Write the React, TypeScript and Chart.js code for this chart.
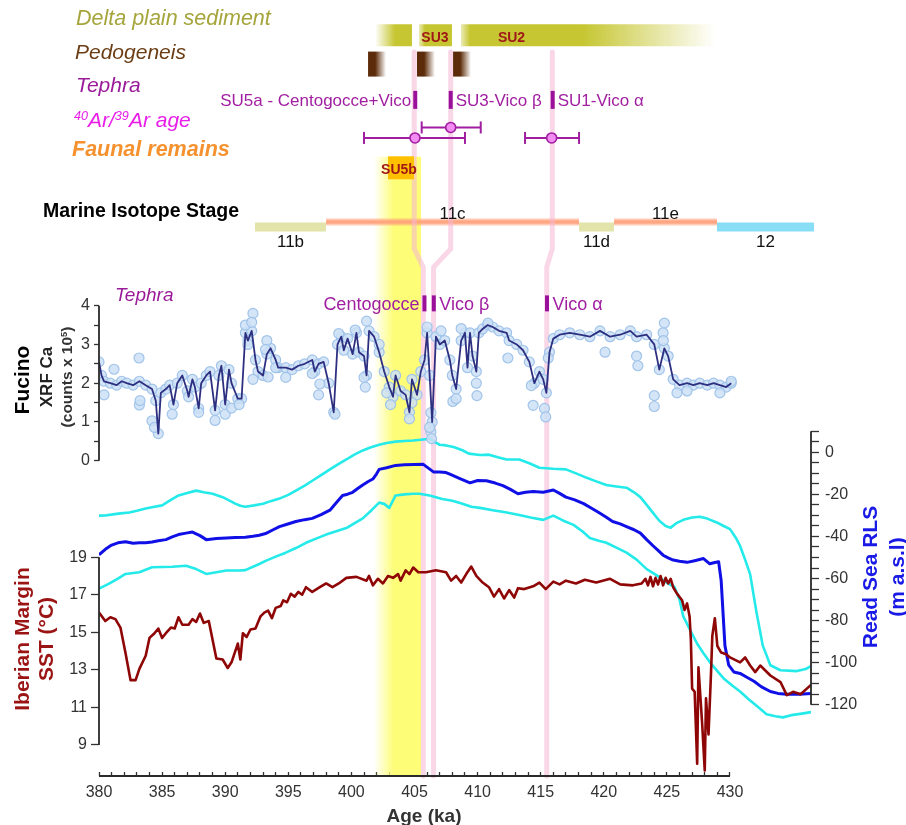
import React, { useEffect, useRef, useState } from 'react';
import { Chart, registerables } from 'chart.js';

Chart.register(...registerables);

const FONT = "'Liberation Sans', Arial, Helvetica, sans-serif";

// ---------------- ticks ----------------
const X_TICKS: number[] = Array.from({ length: 51 }, (_, i) => 380 + i);
const X_LABELS = [380, 385, 390, 395, 400, 405, 410, 415, 420, 425, 430];
const CA_TICKS = [0, 0.5, 1, 1.5, 2, 2.5, 3, 3.5, 4];
const CA_LABELS = [0, 1, 2, 3, 4];
const SST_TICKS = [9, 11, 13, 15, 17, 19];
const RLS_TICKS = [10, 5, 0, -5, -10, -15, -20, -25, -30, -35, -40, -45, -50, -55, -60, -65, -70, -75, -80, -85, -90, -95, -100, -105, -110, -115, -120];
const RLS_LABELS = [0, -20, -40, -60, -80, -100, -120];

// ---------------- Fucino XRF Ca (age ka, counts x 1e5) ----------------
const CA_LINE = [
  [380.0, 2.55], [380.2, 2.2], [380.4, 2.05], [380.9, 2.0], [381.4, 1.95], [381.8, 2.05], [382.2, 2.0], [382.7, 1.95], [383.2, 2.05], [383.7, 1.95],
  [384.2, 1.85], [384.5, 1.55], [384.7, 0.7], [384.9, 1.75], [385.3, 1.85], [385.6, 1.95], [385.9, 1.45], [386.2, 2.0], [386.6, 2.2], [387.0, 1.8],
  [387.1, 1.65], [387.4, 2.1], [387.6, 1.9], [387.9, 1.35], [388.1, 2.0], [388.5, 2.2], [388.8, 2.3], [389.2, 1.3], [389.5, 2.2], [389.7, 2.45],
  [390.0, 1.45], [390.3, 2.35], [390.5, 2.0], [391.0, 1.6], [391.3, 1.6], [391.6, 3.3], [391.8, 3.1], [392.1, 3.35], [392.4, 2.6], [392.6, 2.3],
  [393.0, 2.2], [393.3, 2.75], [393.6, 2.9], [394.0, 2.6], [394.2, 2.4], [394.8, 2.4], [395.3, 2.35], [395.8, 2.45], [396.3, 2.5], [396.9, 2.6],
  [397.1, 2.3], [397.4, 2.5], [397.8, 2.55], [398.2, 2.0], [398.6, 1.25], [398.9, 3.0], [399.2, 3.2], [399.4, 2.85], [399.7, 3.15], [400.1, 2.75],
  [400.4, 3.3], [400.6, 2.8], [401.0, 2.7], [401.2, 2.2], [401.4, 3.35], [401.8, 3.2], [402.2, 2.8], [402.6, 2.3], [403.0, 1.9], [403.3, 1.65],
  [403.5, 2.2], [403.9, 1.8], [404.3, 1.7], [404.6, 1.25], [404.8, 2.1], [405.2, 1.7], [405.5, 2.3], [405.8, 2.6], [406.0, 3.3], [406.2, 2.2],
  [406.4, 1.0], [406.7, 3.2], [407.0, 3.0], [407.4, 3.1], [407.8, 2.6], [408.0, 2.2], [408.3, 1.85], [408.7, 3.1], [409.0, 3.3], [409.2, 2.4],
  [409.4, 3.3], [409.6, 2.7], [409.9, 2.3], [410.1, 3.3], [410.4, 3.4], [410.8, 3.5], [411.2, 3.45], [411.7, 3.35], [412.3, 3.3], [412.5, 3.1],
  [413.1, 3.0], [413.6, 2.85], [414.1, 2.55], [414.5, 2.0], [414.9, 2.3], [415.2, 2.1], [415.45, 1.75], [415.7, 2.8], [416.0, 3.15], [416.5, 3.25],
  [417.3, 3.3], [418.1, 3.25], [418.9, 3.2], [419.7, 3.35], [420.5, 3.2], [421.3, 3.25], [422.1, 3.35], [422.6, 3.2], [423.4, 3.25], [424.0, 3.0],
  [424.4, 2.35], [424.8, 2.9], [425.1, 2.7], [425.5, 2.1], [426.0, 1.95], [426.6, 2.0], [427.1, 1.95], [427.6, 2.0], [428.2, 1.95], [428.7, 2.0],
  [429.2, 1.95], [429.7, 1.9], [430.1, 2.0],
];
const CA_OUTLIERS = [
  [383.17, 2.65], [381.19, 2.36], [380.4, 1.7], [383.2, 1.44], [383.25, 1.55], [384.2, 1.03], [384.4, 0.86], [385.8, 1.2], [387.9, 1.25], [389.2, 1.04],
  [390.0, 1.2], [390.5, 1.36], [391.1, 1.45], [391.6, 3.5], [392.2, 3.8], [392.1, 3.57], [391.8, 3.0], [392.2, 2.1], [393.3, 3.1], [393.2, 2.87],
  [393.4, 2.16], [394.0, 2.4], [394.8, 2.15], [397.4, 1.7], [397.5, 1.98], [396.9, 2.25], [398.7, 1.2], [399.0, 3.28], [400.3, 3.37], [401.2, 3.6],
  [401.1, 1.9], [401.0, 2.15], [402.2, 3.0], [402.8, 1.75], [403.1, 1.45], [404.6, 1.08], [404.8, 1.5], [406.0, 3.45], [406.3, 1.24], [406.3, 0.74],
  [406.35, 0.57], [406.2, 0.86], [407.1, 3.35], [408.04, 1.53], [408.3, 1.6], [408.7, 3.41], [409.95, 1.68], [409.9, 2.0], [410.82, 3.55], [412.4, 2.65],
  [414.26, 1.94], [414.4, 1.43], [415.3, 1.35], [415.4, 1.13], [415.6, 2.65], [420.1, 2.8], [422.6, 2.7], [422.7, 2.45], [424.8, 3.55], [424.7, 3.3],
  [424.72, 3.1], [424.0, 1.68], [424.0, 1.4], [425.8, 1.75], [426.6, 1.8], [429.2, 1.75], [430.1, 2.05],
];

// ---------------- Red Sea RLS (age ka, m a.s.l.) ----------------
const RLS_MEAN = [
  [380.0, -48.7], [380.5, -46.1], [381.0, -44.1], [381.5, -43.0], [382.1, -42.5], [382.7, -43.2], [383.2, -43.0], [383.7, -43.0], [384.2, -42.6], [384.7, -42.0],
  [385.3, -41.5], [385.8, -40.2], [386.3, -39.1], [386.9, -38.4], [387.4, -37.9], [388.0, -39.6], [388.5, -41.5], [389.3, -41.0], [390.1, -40.7], [390.8, -40.5],
  [391.6, -40.4], [392.2, -39.9], [392.7, -39.4], [393.2, -38.6], [393.8, -36.8], [394.3, -35.3], [394.9, -34.2], [395.6, -32.9], [396.3, -32.0], [396.9, -31.4],
  [397.6, -29.6], [398.3, -27.5], [398.8, -24.0], [399.3, -20.5], [399.7, -19.9], [400.1, -19.0], [400.5, -17.2], [400.9, -15.5], [401.3, -14.0], [401.7, -12.7],
  [402.0, -10.2], [402.2, -8.1], [402.8, -7.3], [403.5, -6.2], [404.2, -5.9], [405.0, -5.8], [405.7, -5.7], [406.1, -7.5], [406.5, -9.3], [407.0, -9.4],
  [407.5, -9.6], [407.8, -10.4], [408.6, -12.5], [409.4, -14.5], [410.0, -13.4], [410.7, -13.5], [411.4, -14.6], [412.0, -15.8], [412.6, -17.6], [413.2, -19.7],
  [413.8, -19.0], [414.4, -18.6], [415.2, -19.0], [416.0, -17.9], [416.5, -19.5], [417.0, -21.3], [417.7, -22.6], [418.4, -24.4], [419.1, -26.8], [419.7, -29.0],
  [420.2, -30.9], [420.7, -32.9], [421.3, -34.0], [421.8, -35.3], [422.4, -36.8], [422.9, -38.4], [423.4, -41.5], [423.9, -44.4], [424.3, -46.6], [424.7, -48.9],
  [425.1, -50.2], [425.5, -51.2], [426.0, -51.8], [426.6, -52.3], [427.2, -51.5], [427.9, -50.5], [428.4, -53.0], [428.8, -52.4], [429.1, -52.0], [429.3, -60.9],
  [429.6, -91.9], [429.9, -101.2], [430.3, -104.4], [430.8, -105.1], [431.3, -106.8], [431.9, -108.8], [432.5, -111.5], [433.2, -113.7], [433.8, -114.6], [434.5, -115.0],
  [435.5, -115.0], [436.42, -114.6],
];
const RLS_UPPER = [
  [380.0, -30.1], [380.5, -30.0], [381.1, -29.5], [381.7, -29.0], [382.4, -28.6], [383.0, -27.8], [383.7, -26.7], [384.3, -26.0], [385.0, -25.2], [385.6, -23.0],
  [386.3, -20.5], [387.0, -19.3], [387.7, -18.2], [388.3, -19.0], [389.0, -19.7], [389.8, -21.3], [390.3, -22.8], [390.8, -24.4], [391.2, -25.4], [391.6, -25.9],
  [392.3, -25.2], [393.0, -24.4], [393.6, -23.2], [394.3, -22.0], [395.0, -20.2], [395.6, -18.2], [396.3, -15.8], [396.9, -13.5], [397.6, -10.8], [398.3, -8.1],
  [398.9, -5.8], [399.6, -3.4], [400.2, -1.2], [400.9, 0.9], [401.5, 2.3], [402.2, 3.6], [402.8, 4.4], [403.5, 5.1], [404.2, 5.4], [404.9, 5.6],
  [405.5, 6.0], [406.2, 6.5], [406.6, 5.0], [407.0, 3.6], [407.5, 3.3], [408.1, 2.5], [408.8, 1.0], [409.3, -0.6], [410.2, -1.3], [410.9, -1.1],
  [411.6, -2.3], [412.3, -3.4], [413.3, -3.4], [414.1, -5.2], [414.9, -7.3], [416.0, -7.8], [417.0, -8.1], [417.8, -10.0], [418.6, -12.0], [419.4, -13.8],
  [420.2, -15.5], [421.0, -16.2], [421.8, -16.8], [422.4, -19.0], [422.9, -21.3], [423.4, -25.0], [423.9, -28.8], [424.4, -32.5], [424.9, -35.0], [425.3, -35.8],
  [425.8, -33.5], [426.3, -32.1], [427.0, -31.0], [427.6, -30.6], [428.2, -31.5], [428.9, -33.2], [429.5, -35.0], [430.0, -36.5], [430.5, -41.0], [430.8, -44.5],
  [431.2, -51.0], [431.6, -58.0], [432.1, -76.0], [432.6, -91.9], [433.2, -101.2], [434.0, -103.6], [435.3, -104.0], [436.0, -103.0], [436.42, -101.6],
];
const RLS_LOWER = [
  [380.0, -64.8], [380.8, -62.4], [381.5, -60.0], [382.1, -57.8], [383.2, -57.0], [384.2, -54.6], [385.0, -54.5], [385.8, -54.4], [386.9, -53.9], [387.7, -55.5],
  [388.5, -57.8], [389.3, -57.0], [390.1, -56.2], [391.1, -56.2], [391.6, -56.0], [392.7, -53.1], [393.2, -51.6], [394.0, -49.6], [394.8, -47.7], [395.6, -45.5],
  [396.4, -43.0], [397.2, -41.0], [398.0, -39.1], [398.8, -37.5], [399.6, -36.0], [400.3, -33.5], [400.9, -31.4], [401.6, -27.5], [402.2, -23.9], [402.6, -24.5],
  [403.0, -26.4], [403.5, -20.5], [404.2, -20.0], [404.9, -19.7], [405.4, -19.7], [406.2, -20.5], [407.2, -22.2], [408.0, -23.0], [408.8, -24.4], [409.5, -25.9],
  [410.2, -26.4], [411.2, -27.5], [412.2, -28.5], [413.3, -29.8], [414.2, -31.0], [415.2, -32.1], [416.0, -30.1], [416.8, -32.5], [417.6, -34.5], [418.3, -37.5],
  [418.9, -40.7], [419.6, -42.0], [420.2, -43.0], [421.0, -45.3], [421.8, -47.7], [422.6, -51.0], [423.4, -55.5], [424.2, -58.5], [425.0, -62.0], [425.6, -64.0],
  [426.0, -70.0], [426.3, -78.0], [426.8, -84.0], [427.4, -91.0], [427.9, -95.5], [428.4, -99.7], [429.0, -104.0], [429.5, -107.5], [430.2, -111.0], [430.8, -113.7],
  [431.5, -117.5], [432.2, -121.0], [432.9, -124.5], [433.6, -125.5], [434.2, -126.0], [435.0, -124.8], [435.7, -124.2], [436.42, -123.5],
];

// ---------------- Iberian Margin SST (age ka, °C) ----------------
const SST = [
  [380.0, 16.05], [380.5, 15.6], [380.9, 15.8], [381.3, 15.7], [381.7, 15.25], [382.1, 13.9], [382.5, 12.45], [382.9, 12.45], [383.2, 13.05], [383.7, 13.75],
  [384.0, 14.7], [384.4, 14.95], [384.7, 15.2], [385.0, 14.7], [385.3, 14.95], [385.7, 15.25], [386.0, 15.2], [386.3, 15.8], [386.6, 15.4], [387.1, 15.4],
  [387.4, 15.7], [387.7, 15.55], [388.0, 16.0], [388.3, 15.5], [388.7, 15.6], [389.3, 13.6], [389.8, 13.55], [390.2, 13.1], [390.5, 13.4], [391.0, 14.4],
  [391.2, 13.55], [391.4, 14.95], [391.7, 14.75], [392.0, 15.15], [392.4, 15.2], [392.8, 15.85], [393.1, 16.05], [393.4, 16.15], [393.7, 15.75], [394.0, 16.3],
  [394.4, 16.4], [394.6, 16.7], [394.9, 16.6], [395.2, 17.05], [395.5, 16.9], [395.8, 17.15], [396.1, 17.0], [396.4, 17.4], [396.9, 17.15], [397.5, 17.4],
  [398.0, 17.6], [398.5, 17.4], [399.0, 17.6], [399.6, 17.9], [400.4, 17.95], [401.2, 17.75], [401.4, 18.0], [401.7, 17.5], [402.1, 17.85], [402.5, 17.6],
  [402.9, 18.0], [403.3, 17.9], [403.7, 18.1], [403.9, 17.75], [404.3, 18.3], [404.6, 18.1], [404.9, 18.45], [405.3, 18.2], [405.9, 18.2], [406.7, 18.3],
  [407.5, 18.2], [407.9, 17.75], [408.3, 18.0], [408.7, 17.65], [409.1, 18.1], [409.5, 18.5], [409.9, 18.0], [410.4, 17.65], [410.9, 17.4], [411.3, 16.9],
  [411.7, 17.3], [412.1, 16.8], [412.5, 17.25], [412.9, 16.85], [413.2, 17.35], [413.7, 17.3], [414.4, 17.45], [414.9, 17.65], [415.4, 17.3], [416.0, 17.7],
  [416.5, 17.55], [417.0, 17.75], [417.8, 17.6], [418.5, 17.8], [419.4, 17.65], [420.5, 17.85], [421.3, 17.55], [422.3, 17.5], [423.0, 17.6], [423.3, 17.85],
  [423.5, 17.5], [423.7, 17.95], [423.9, 17.45], [424.1, 17.9], [424.3, 17.55], [424.5, 18.0], [424.7, 17.5], [424.9, 17.9], [425.1, 17.6], [425.3, 17.85],
  [425.5, 17.4], [425.8, 17.06], [426.2, 16.71], [426.4, 16.19], [426.6, 16.54], [426.8, 15.84], [426.9, 14.62], [427.0, 12.0], [427.2, 11.83], [427.4, 8.0],
  [427.5, 13.14], [427.8, 10.08], [428.0, 7.64], [428.1, 11.48], [428.3, 9.56], [428.5, 12.88], [428.6, 14.8], [428.8, 15.75], [429.0, 14.27], [429.3, 13.92],
  [429.7, 13.83], [430.0, 13.66], [430.8, 13.4], [431.2, 13.66], [431.6, 13.23], [432.0, 12.88], [432.4, 13.23], [433.2, 12.7], [434.0, 12.35], [434.5, 11.65],
  [435.0, 11.83], [435.6, 11.7], [436.42, 12.2],
];

// ---------------- Annotations (ages in ka) ----------------
const DELTA_SPANS = [[401.87, 404.80], [405.36, 407.97], [408.68, 428.81]];
const DELTA_UNIT_NAMES = ['SU3', 'SU2'];
const DELTA_UNIT_AGE = [406.62, 412.69];
const PEDO_SPANS = [[401.32, 402.74], [405.20, 406.62], [408.05, 409.48]];
const TEPHRA_TOP_NAMES = ['SU5a - Centogocce+Vico', 'SU3-Vico β', 'SU1-Vico α'];
const TEPHRA_TOP_AGE = [405.06, 407.87, 415.95];
const AR_AGE = [405.04, 407.87, 415.87];
const AR_LO = [401.0, 405.57, 413.76];
const AR_HI = [409.0, 410.25, 418.04];
const FAUNA_NAME = 'SU5b';
const FAUNA_BOX = [402.90, 404.96];
const FAUNA_LABEL_AGE = 403.77;
const FAUNA_BAND = [401.79, 405.52];
const MIS_STAGES = ['11b', '11c', '11d', '11e', '12'];
const MIS_START = [392.36, 397.99, 418.04, 420.81, 428.97];
const MIS_END = [397.99, 418.04, 420.81, 428.97, 436.66];
const MIS_WARM = [false, true, false, true, false];
const LINK_TOP_AGE = [404.98, 407.87, 415.92];
const LINK_BOTTOM_AGE = [405.70, 406.51, 415.48];
const TEPHRA_FUC_NAMES = ['Centogocce', 'Vico β', 'Vico α'];
const TEPHRA_FUC_AGE = [405.79, 406.53, 415.5];

// ---------------- layout ----------------
const W = 906;
const H = 825;
const PAD = { left: 99, right: 95, top: 0, bottom: 49 };
const PLOT_H = H - PAD.top - PAD.bottom;
const X_MIN = 380;
const X_MAX = 436.42;

function span(v0: number, p0: number, v1: number, p1: number) {
  const k = (p1 - p0) / (v1 - v0);
  const a = v0 + (0 - p0) / k;
  const b = v0 + (PLOT_H - p0) / k;
  return { min: Math.min(a, b), max: Math.max(a, b) };
}
const CA_RANGE = span(0, 454.3, 4, 296);
const SST_RANGE = span(9, 744.3, 19, 552.7);
const RLS_RANGE = span(0, 445.7, -120, 703.3);
const ROW_RANGE = span(0, 20, 1, 53.5);

const ROW = {
  delta: 0, deltaText: 0.07, pedo: 0.88, tephra: 1.97, arLow: 3.13, arHigh: 2.81,
  faunaTop: 3.70, fauna: 4.04, faunaText: 4.09, misWarm: 5.69, misCold: 5.84,
  misTextWarm: 5.43, misTextCold: 6.28, linkTop: 0.51, jogTop: 6.51, jogBottom: 7.07,
  fucTephra: 8.17, fucTephraText: 8.19, base: ROW_RANGE.max,
};
const AR_ROW = [ROW.arLow, ROW.arHigh, ROW.arLow];

const OLIVE = '198,198,50';
const BROWN = '92,44,10';
const YELLOW = '253,253,120';
const PURPLE = '#9a109a';
const AXIS_COLOR = '#2a2a2a';

const pts = (arr: number[][]) => arr.map(([x, y]) => ({ x, y }));

function hGrad(chart: any, x0: number, x1: number, stops: number[][], rgb: string) {
  const xs = chart.scales && chart.scales.x;
  if (!xs) return `rgba(${rgb},1)`;
  const a = xs.getPixelForValue(x0);
  const b = xs.getPixelForValue(x1);
  if (!isFinite(a) || !isFinite(b) || a === b) return `rgba(${rgb},1)`;
  const g = chart.ctx.createLinearGradient(a, 0, b, 0);
  stops.forEach(([f, al]) => g.addColorStop(f, `rgba(${rgb},${al})`));
  return g;
}
function vGrad(chart: any, row: number, half: number, rgb: string) {
  const ys = chart.scales && chart.scales.yRow;
  if (!ys) return `rgba(${rgb},1)`;
  const y = ys.getPixelForValue(row);
  if (!isFinite(y)) return `rgba(${rgb},1)`;
  const g = chart.ctx.createLinearGradient(0, y - half, 0, y + half);
  g.addColorStop(0, `rgba(${rgb},0.15)`);
  g.addColorStop(0.3, `rgba(${rgb},0.8)`);
  g.addColorStop(0.5, `rgba(${rgb},1)`);
  g.addColorStop(0.7, `rgba(${rgb},0.8)`);
  g.addColorStop(1, `rgba(${rgb},0.15)`);
  return g;
}

function seg(data: any[], yAxisID: string, style: any) {
  return { type: 'line', data, xAxisID: 'x', yAxisID, pointRadius: 0, tension: 0, borderCapStyle: 'butt', clip: false, ...style };
}

const DELTA_STOPS = [
  [[0, 0], [0.54, 1], [1, 1]],
  [[0, 0.35], [0.18, 1], [1, 1]],
  [[0, 0.35], [0.036, 1], [0.48, 1], [1, 0]],
];

function buildDatasets() {
  const ds: any[] = [];
  // axis lines
  ds.push(seg([{ x: 380, y: ROW.base }, { x: 430, y: ROW.base }], 'yRow', { borderColor: AXIS_COLOR, borderWidth: 1.8, order: 0 }));
  ds.push(seg([{ x: 380, y: CA_TICKS[0] }, { x: 380, y: CA_TICKS[CA_TICKS.length - 1] }], 'yCa', { borderColor: AXIS_COLOR, borderWidth: 1.8, order: 0 }));
  ds.push(seg([{ x: 380, y: SST_TICKS[0] }, { x: 380, y: SST_TICKS[SST_TICKS.length - 1] }], 'ySst', { borderColor: AXIS_COLOR, borderWidth: 1.8, order: 0 }));
  ds.push(seg([{ x: X_MAX, y: RLS_TICKS[0] }, { x: X_MAX, y: RLS_TICKS[RLS_TICKS.length - 1] }], 'yRls', { borderColor: AXIS_COLOR, borderWidth: 1.8, order: 0 }));

  // Ar/Ar ages
  ds.push({
    type: 'scatter', xAxisID: 'x', yAxisID: 'yRow', clip: false, order: 1,
    data: AR_AGE.map((a, i) => ({ x: a, y: AR_ROW[i] })),
    pointRadius: 5, pointBackgroundColor: 'rgb(242,140,242)', pointBorderColor: 'rgb(160,30,160)', pointBorderWidth: 1.6,
  });
  ds.push({
    type: 'scatter', xAxisID: 'x', yAxisID: 'yRow', clip: false, order: 2,
    data: AR_AGE.flatMap((_, i) => [{ x: AR_LO[i], y: AR_ROW[i] }, { x: AR_HI[i], y: AR_ROW[i] }]),
    pointStyle: 'line', rotation: 90, pointRadius: 6, pointBorderColor: 'rgb(160,30,160)', pointBorderWidth: 2,
  });
  AR_AGE.forEach((_, i) => {
    ds.push(seg([{ x: AR_LO[i], y: AR_ROW[i] }, { x: AR_HI[i], y: AR_ROW[i] }], 'yRow', { borderColor: 'rgb(160,30,160)', borderWidth: 2, order: 3 }));
  });

  // tephra marks
  ds.push({
    type: 'scatter', xAxisID: 'x', yAxisID: 'yRow', clip: false, order: 4,
    data: TEPHRA_TOP_AGE.map((a) => ({ x: a, y: ROW.tephra })),
    pointStyle: 'line', rotation: 90, pointRadius: 9, pointBorderColor: PURPLE, pointBorderWidth: 4,
  });
  ds.push({
    type: 'scatter', xAxisID: 'x', yAxisID: 'yRow', clip: false, order: 4,
    data: TEPHRA_FUC_AGE.map((a) => ({ x: a, y: ROW.fucTephra })),
    pointStyle: 'line', rotation: 90, pointRadius: 8, pointBorderColor: PURPLE, pointBorderWidth: 4,
  });

  // Fucino
  ds.push(seg(pts(CA_LINE), 'yCa', { borderColor: '#2d2f80', borderWidth: 1.8, order: 5, clip: undefined, borderJoinStyle: 'round' }));
  ds.push({
    type: 'scatter', xAxisID: 'x', yAxisID: 'yCa', order: 6,
    data: pts([...CA_LINE, ...CA_OUTLIERS]),
    pointRadius: 5, pointBackgroundColor: 'rgba(204,224,246,0.85)', pointBorderColor: 'rgba(158,194,233,0.95)', pointBorderWidth: 1.2,
  });

  // SST & RLS
  ds.push(seg(pts(SST), 'ySst', { borderColor: '#8e0606', borderWidth: 2.6, order: 7, clip: undefined, borderJoinStyle: 'round' }));
  ds.push(seg(pts(RLS_MEAN), 'yRls', { borderColor: '#1010e6', borderWidth: 3, order: 8, clip: undefined, borderJoinStyle: 'round' }));
  ds.push(seg(pts(RLS_UPPER), 'yRls', { borderColor: '#24eaea', borderWidth: 2.6, order: 9, clip: undefined, borderJoinStyle: 'round' }));
  ds.push(seg(pts(RLS_LOWER), 'yRls', { borderColor: '#24eaea', borderWidth: 2.6, order: 9, clip: undefined, borderJoinStyle: 'round' }));

  // fauna box
  ds.push(seg([{ x: FAUNA_BOX[0], y: ROW.fauna }, { x: FAUNA_BOX[1], y: ROW.fauna }], 'yRow', { borderColor: 'rgb(255,192,0)', borderWidth: 23, order: 10 }));

  // pink correlation links
  LINK_TOP_AGE.forEach((a, i) => {
    ds.push(seg([
      { x: a, y: ROW.linkTop }, { x: a, y: ROW.jogTop },
      { x: LINK_BOTTOM_AGE[i], y: ROW.jogBottom }, { x: LINK_BOTTOM_AGE[i], y: ROW.base },
    ], 'yRow', { borderColor: 'rgba(246,182,212,0.55)', borderWidth: 5, order: 11, borderJoinStyle: 'round' }));
  });

  // delta plain bars
  DELTA_SPANS.forEach(([a, b], i) => {
    ds.push(seg([{ x: a, y: ROW.delta }, { x: b, y: ROW.delta }], 'yRow', {
      borderWidth: 22, order: 12,
      borderColor: (c: any) => hGrad(c.chart, a, b, DELTA_STOPS[i], OLIVE),
    }));
  });
  // pedogenesis
  PEDO_SPANS.forEach(([a, b]) => {
    ds.push(seg([{ x: a, y: ROW.pedo }, { x: b, y: ROW.pedo }], 'yRow', {
      borderWidth: 25, order: 12,
      borderColor: (c: any) => hGrad(c.chart, a, b, [[0, 1], [0.4, 1], [1, 0]], BROWN),
    }));
  });
  // MIS bars
  MIS_STAGES.forEach((s, i) => {
    const warm = MIS_WARM[i];
    const row = warm ? ROW.misWarm : ROW.misCold;
    const cold = s === '12' ? 'rgb(135,222,245)' : 'rgb(226,228,170)';
    ds.push(seg([{ x: MIS_START[i], y: row }, { x: MIS_END[i], y: row }], 'yRow', {
      borderWidth: warm ? 8 : 9, order: 12,
      borderColor: warm ? (c: any) => vGrad(c.chart, row, 4, '255,160,122') : cold,
    }));
  });

  // faunal yellow band
  const mid = (FAUNA_BAND[0] + FAUNA_BAND[1]) / 2;
  ds.push(seg([{ x: mid, y: ROW.faunaTop }, { x: mid, y: ROW.base }], 'yRow', {
    order: 20,
    borderWidth: (c: any) => {
      const xs = c.chart.scales && c.chart.scales.x;
      if (!xs) return 40;
      const w = xs.getPixelForValue(FAUNA_BAND[1]) - xs.getPixelForValue(FAUNA_BAND[0]);
      return isFinite(w) ? w : 40;
    },
    borderColor: (c: any) => hGrad(c.chart, FAUNA_BAND[0], FAUNA_BAND[1], [[0, 0], [0.42, 1], [1, 1]], YELLOW),
  }));
  return ds;
}

// Give the zero-width axes a box that covers their margin so that their tick labels are not clipped.
const axisBoxes = {
  id: 'axisBoxes',
  afterLayout(chart: any) {
    const s = chart.scales;
    const ca = chart.chartArea;
    ['yCa', 'ySst'].forEach((id) => { s[id].left = 0; s[id].right = ca.left; s[id].width = ca.left; });
    s.yRls.left = ca.right; s.yRls.right = chart.width; s.yRls.width = chart.width - ca.right;
    s.x.top = ca.bottom; s.x.bottom = chart.height; s.x.height = chart.height - ca.bottom;
  },
};

const tickFont = { family: FONT, size: 16 };
const baseTicks = { font: tickFont, color: '#333', autoSkip: false, maxRotation: 0, minRotation: 0 };
const setTicks = (vals: number[]) => (s: any) => { s.ticks = vals.map((v) => ({ value: v })); };

function buildConfig(): any {
  return {
    type: 'scatter',
    data: { datasets: buildDatasets() },
    plugins: [axisBoxes],
    options: {
      animation: false,
      responsive: false,
      devicePixelRatio: 1,
      events: [],
      layout: { padding: PAD },
      plugins: { legend: { display: false }, tooltip: { enabled: false } },
      scales: {
        x: {
          type: 'linear', position: 'bottom', min: X_MIN, max: X_MAX,
          afterBuildTicks: setTicks(X_TICKS),
          afterFit: (s: any) => { s.height = 0; },
          ticks: { ...baseTicks, padding: 11, callback: (v: number) => (X_LABELS.includes(v) ? String(v) : '') },
          grid: { display: true, drawOnChartArea: false, drawTicks: true, tickLength: -4, tickColor: '#333', tickWidth: 1.3 },
          border: { display: false },
        },
        yCa: {
          type: 'linear', position: 'left', min: CA_RANGE.min, max: CA_RANGE.max,
          afterBuildTicks: setTicks(CA_TICKS),
          afterFit: (s: any) => { s.width = 0; },
          ticks: { ...baseTicks, padding: 4, callback: (v: number) => (CA_LABELS.includes(v) ? String(v) : '') },
          grid: { display: true, drawOnChartArea: false, drawTicks: true, tickLength: 5, tickColor: '#333', tickWidth: 1.3 },
          border: { display: false },
        },
        ySst: {
          type: 'linear', position: 'left', min: SST_RANGE.min, max: SST_RANGE.max,
          afterBuildTicks: setTicks(SST_TICKS),
          afterFit: (s: any) => { s.width = 0; },
          ticks: { ...baseTicks, padding: 4, callback: (v: number) => String(v) },
          grid: { display: true, drawOnChartArea: false, drawTicks: true, tickLength: 8, tickColor: '#333', tickWidth: 1.3 },
          border: { display: false },
        },
        yRls: {
          type: 'linear', position: 'right', min: RLS_RANGE.min, max: RLS_RANGE.max,
          afterBuildTicks: setTicks(RLS_TICKS),
          afterFit: (s: any) => { s.width = 0; },
          ticks: { ...baseTicks, padding: 6, callback: (v: number) => (RLS_LABELS.includes(v) ? String(v) : '') },
          grid: { display: true, drawOnChartArea: false, drawTicks: true, tickLength: 8, tickColor: '#333', tickWidth: 1.3 },
          border: { display: false },
        },
        yRow: {
          type: 'linear', position: 'left', display: false, reverse: true, min: ROW_RANGE.min, max: ROW_RANGE.max,
        },
      },
    },
  };
}

type Lbl = { text: string; age: number; row: number; dx: number; align: 'left' | 'right' | 'center'; style: any };
const SU_STYLE = { fontSize: 14, fontWeight: 'bold', color: '#a01818' };
const TEPH_STYLE = { fontSize: 17, color: '#a01ea0' };
const FUC_TEPH_STYLE = { fontSize: 18, color: '#a01ea0' };
const MIS_STYLE = { fontSize: 17, color: '#111' };

const DATA_LABELS: Lbl[] = [
  ...DELTA_UNIT_NAMES.map((t, i) => ({ text: t, age: DELTA_UNIT_AGE[i], row: ROW.deltaText, dx: 0, align: 'center' as const, style: SU_STYLE })),
  { text: FAUNA_NAME, age: FAUNA_LABEL_AGE, row: ROW.faunaText, dx: 0, align: 'center', style: SU_STYLE },
  ...TEPHRA_TOP_NAMES.map((t, i) => ({ text: t, age: TEPHRA_TOP_AGE[i], row: ROW.tephra, dx: i === 0 ? -4 : 5, align: (i === 0 ? 'right' : 'left') as any, style: TEPH_STYLE })),
  ...TEPHRA_FUC_NAMES.map((t, i) => ({ text: t, age: TEPHRA_FUC_AGE[i], row: ROW.fucTephraText, dx: i === 0 ? -5 : 5.5, align: (i === 0 ? 'right' : 'left') as any, style: FUC_TEPH_STYLE })),
  ...MIS_STAGES.map((t, i) => ({ text: t, age: (MIS_START[i] + MIS_END[i]) / 2, row: MIS_WARM[i] ? ROW.misTextWarm : ROW.misTextCold, dx: 0, align: 'center' as const, style: MIS_STYLE })),
];

function Txt(props: { x: number; y: number; align?: string; rotate?: boolean; style?: any; children: any }) {
  const { x, y, align = 'left', rotate = false, style = {}, children } = props;
  const tx = align === 'left' ? '0' : align === 'right' ? '-100%' : '-50%';
  return (
    <div
      style={{
        position: 'absolute', left: x, top: y, whiteSpace: 'nowrap', lineHeight: 1, fontFamily: FONT,
        transform: rotate ? 'translate(-50%,-50%) rotate(-90deg)' : `translate(${tx},-50%)`,
        ...style,
      }}
    >
      {children}
    </div>
  );
}

const supStyle = { fontSize: '0.6em', position: 'relative' as const, top: '-0.55em' };

export default function App() {
  const canvasRef = useRef<HTMLCanvasElement | null>(null);
  const [anchors, setAnchors] = useState<{ x: number; y: number }[] | null>(null);

  useEffect(() => {
    if (!canvasRef.current) return;
    const chart = new Chart(canvasRef.current, buildConfig());
    const xs: any = chart.scales.x;
    const yr: any = chart.scales.yRow;
    setAnchors(DATA_LABELS.map((l) => ({ x: xs.getPixelForValue(l.age) + l.dx, y: yr.getPixelForValue(l.row) })));
    return () => chart.destroy();
  }, []);

  return (
    <div style={{ position: 'absolute', left: 0, top: 0, width: W, height: H, background: '#fff', overflow: 'hidden' }}>
      <canvas ref={canvasRef} width={W} height={H} style={{ position: 'absolute', left: 0, top: 0, width: W, height: H }} />

      <Txt x={76} y={19} style={{ fontSize: 21.5, fontStyle: 'italic', color: '#a5a53c' }}>Delta plain sediment</Txt>
      <Txt x={75} y={51} style={{ fontSize: 21, fontStyle: 'italic', color: '#6b3d14' }}>Pedogeneis</Txt>
      <Txt x={76} y={84} style={{ fontSize: 21, fontStyle: 'italic', color: '#9a1a9a' }}>Tephra</Txt>
      <Txt x={74} y={119} style={{ fontSize: 21, fontStyle: 'italic', color: '#e81ee8' }}>
        <span style={supStyle}>40</span>Ar/<span style={supStyle}>39</span>Ar age
      </Txt>
      <Txt x={72} y={150} style={{ fontSize: 21.5, fontStyle: 'italic', fontWeight: 'bold', color: '#f5922f' }}>Faunal remains</Txt>
      <Txt x={43} y={211} style={{ fontSize: 19.5, fontWeight: 'bold', color: '#000' }}>Marine Isotope Stage</Txt>

      <Txt x={115} y={294} style={{ fontSize: 19, fontStyle: 'italic', color: '#9a1a9a' }}>Tephra</Txt>
      <Txt x={21} y={380} rotate style={{ fontSize: 21, fontWeight: 'bold', color: '#000' }}>Fucino</Txt>
      <Txt x={46} y={377} rotate style={{ fontSize: 17, fontWeight: 'bold', color: '#222' }}>XRF Ca</Txt>
      <Txt x={67} y={377} rotate style={{ fontSize: 15.5, fontWeight: 'bold', color: '#333' }}>
        (counts x 10<span style={supStyle}>5</span>)
      </Txt>
      <Txt x={21} y={639} rotate style={{ fontSize: 21, fontWeight: 'bold', color: '#9b1414' }}>Iberian Margin</Txt>
      <Txt x={45} y={639} rotate style={{ fontSize: 21, fontWeight: 'bold', color: '#9b1414' }}>SST (°C)</Txt>
      <Txt x={869} y={577} rotate style={{ fontSize: 21, fontWeight: 'bold', color: '#1a1ae6' }}>Read Sea RLS</Txt>
      <Txt x={896} y={577} rotate style={{ fontSize: 21, fontWeight: 'bold', color: '#1a1ae6' }}>(m a.s.l)</Txt>
      <Txt x={424} y={815} align="center" style={{ fontSize: 19, fontWeight: 'bold', color: '#333' }}>Age (ka)</Txt>

      {anchors &&
        DATA_LABELS.map((l, i) => (
          <Txt key={i} x={anchors[i].x} y={anchors[i].y} align={l.align} style={l.style}>
            {l.text}
          </Txt>
        ))}
    </div>
  );
}
